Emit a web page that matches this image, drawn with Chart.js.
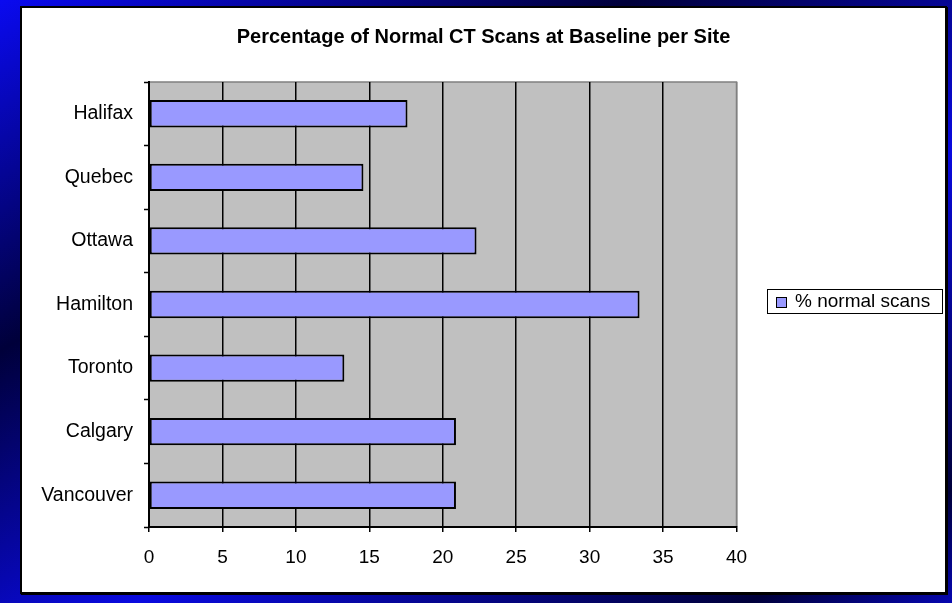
<!DOCTYPE html>
<html>
<head>
<meta charset="utf-8">
<script src="https://cdn.jsdelivr.net/npm/chart.js@4.4.1/dist/chart.umd.min.js"></script>
<style>
  html, body { margin: 0; padding: 0; }
  body {
    width: 952px; height: 603px; overflow: hidden; position: relative;
    background: linear-gradient(151deg, #0a0af0 0%, #00003a 31%, #0a0ae0 60%, #00003a 90%, #0606b0 100%);
  }
  #panel {
    position: absolute; left: 20px; top: 6px; width: 923px; height: 584px;
    border: 2px solid #000; box-shadow: 1px 1px 0 #000; background: #fff;
  }
  #chart { display: block; }
</style>
</head>
<body>
<div id="panel"><canvas id="chart" width="923" height="584"></canvas></div>
<script>
// Sites and share of normal CT scans at baseline (%)
const sites = ["Halifax", "Quebec", "Ottawa", "Hamilton", "Toronto", "Calgary", "Vancouver"];
const normalScans = [17.6, 14.6, 22.3, 33.4, 13.3, 20.9, 20.9];
const seriesLabel = "% normal scans";
const titleText = "Percentage of Normal CT Scans at Baseline per Site";
const xTicks = [0, 5, 10, 15, 20, 25, 30, 35, 40];

const FONT = "'Liberation Sans', Arial, sans-serif";
const BAR_FILL = "#9999FF";

// grey plot background plus grey top/right frame
const plotBackground = {
  id: "plotBackground",
  beforeDraw(chart) {
    const { ctx, chartArea: a } = chart;
    ctx.save();
    ctx.fillStyle = "#C0C0C0";
    ctx.fillRect(a.left, a.top, a.right - a.left, a.bottom - a.top);
    ctx.strokeStyle = "#808080";
    ctx.lineWidth = 1.5;
    ctx.beginPath();
    ctx.moveTo(a.left, a.top);
    ctx.lineTo(a.right, a.top);
    ctx.lineTo(a.right, a.bottom);
    ctx.stroke();
    ctx.restore();
  }
};

// boxed legend to the right of the plot
const boxedLegend = {
  id: "boxedLegend",
  afterDraw(chart) {
    const { ctx } = chart;
    const ds = chart.data.datasets[0];
    const x = 745, y = 281, w = 175, h = 24;
    ctx.save();
    ctx.fillStyle = "#fff";
    ctx.fillRect(x, y, w, h);
    ctx.strokeStyle = "#000";
    ctx.lineWidth = 1;
    ctx.strokeRect(x + 0.5, y + 0.5, w, h);
    ctx.fillStyle = ds.backgroundColor;
    ctx.fillRect(754, 289, 10, 10);
    ctx.strokeRect(754.5, 289.5, 10, 10);
    ctx.fillStyle = "#000";
    ctx.font = "19px " + FONT;
    ctx.textBaseline = "middle";
    ctx.textAlign = "left";
    ctx.fillText(ds.label, 773, y + h / 2 + 1);
    ctx.restore();
  }
};

new Chart(document.getElementById("chart"), {
  type: "bar",
  data: {
    labels: sites,
    datasets: [{
      label: seriesLabel,
      data: normalScans,
      backgroundColor: BAR_FILL,
      borderColor: "#000",
      borderWidth: 2,
      borderSkipped: false,
      categoryPercentage: 1,
      barPercentage: 0.43
    }]
  },
  options: {
    indexAxis: "y",
    responsive: false,
    animation: false,
    layout: { padding: 0 },
    plugins: {
      legend: { display: false },
      tooltip: { enabled: false },
      title: {
        display: true,
        text: titleText,
        color: "#000",
        font: { family: FONT, size: 20, weight: "bold", lineHeight: 1.2 },
        padding: { top: 17, bottom: 33 }
      }
    },
    scales: {
      x: {
        type: "linear",
        min: 0, max: 40,
        afterBuildTicks(scale) { scale.ticks = xTicks.map(v => ({ value: v })); },
        afterFit(scale) { scale.height = 65; },
        border: { color: "#000", width: 2 },
        grid: {
          color: c => (c.tick && c.tick.value === 40 ? "#808080" : "#000"),
          lineWidth: 1.5,
          drawTicks: true,
          tickLength: 5,
          tickColor: "#000",
          tickWidth: 1.5
        },
        ticks: {
          color: "#000",
          font: { family: FONT, size: 19 },
          padding: 14,
          maxRotation: 0
        }
      },
      y: {
        afterFit(scale) { scale.width = 127; },
        border: { color: "#000", width: 2 },
        grid: {
          offset: true,
          drawOnChartArea: false,
          drawTicks: true,
          tickLength: 5,
          tickColor: "#000",
          tickWidth: 1.5
        },
        ticks: {
          color: "#000",
          font: { family: FONT, size: 19.5 },
          padding: 11
        }
      },
      // empty right-hand axis that keeps room for the legend box
      legendSpace: {
        type: "category",
        position: "right",
        afterFit(scale) { scale.width = 208.5; },
        border: { display: false },
        grid: { display: false, drawTicks: false },
        ticks: { display: false }
      }
    }
  },
  plugins: [plotBackground, boxedLegend]
});
</script>
</body>
</html>
